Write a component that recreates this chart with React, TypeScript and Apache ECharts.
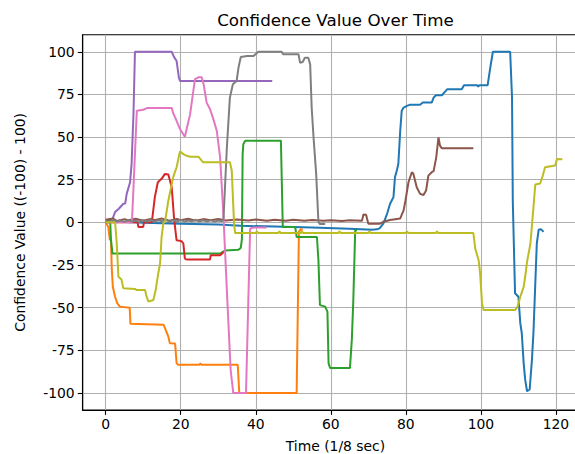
import React, { useEffect, useRef } from "react";
import * as echarts from "echarts";

const xTicks = [0, 20, 40, 60, 80, 100, 120];
const yTicks = [-100, -75, -50, -25, 0, 25, 50, 75, 100];

const colors = ["#1f77b4", "#ff7f0e", "#2ca02c", "#d62728", "#9467bd", "#8c564b", "#e377c2", "#7f7f7f", "#bcbd22"];

const s0: [number, number][] = [
  [0, 1], [2, 0.5], [10, -0.3], [20, -0.8], [30, -1.3], [36, -2], [45, -2.5], [55, -3], [65, -3.8], [71, -4.3], [72.3, -4.1],
  [73, -3.5], [74, -0.8], [75, 5], [75.8, 10.9], [76.7, 14.8], [77.1, 26.5], [77.6, 30.4], [78, 34.3], [78.5, 53.7], [78.9, 65.4],
  [79.4, 67.3], [80.3, 68.3], [81, 68.9], [83.8, 68.9], [84.5, 70.2], [86.9, 70.2], [87.4, 73.1], [88, 74.5], [89.6, 74.5],
  [90.4, 76.5], [91, 78], [94.9, 78], [95.5, 80.4], [99, 80.4], [99.3, 79.5], [99.6, 80.4], [101.8, 80.4], [102.5, 90.7],
  [103.2, 100], [107.8, 100], [108.3, 73.1], [108.5, 12.8], [109.1, -41.6], [110, -43.6], [110.5, -59.1], [110.9, -65],
  [111.4, -82.5], [111.8, -92.2], [112.3, -99], [113, -98], [113.6, -80.6], [114, -65], [114.5, -35.8], [114.9, -12.4],
  [115.4, -4.3], [116, -4], [116.7, -5.6],
];
const s1: [number, number][] = [
  [0, 0], [0.7, -2.7], [1.1, -10.5], [1.4, -9], [1.6, -26], [1.9, -37.8], [2.5, -43.6], [3.1, -47.5], [3.8, -49.4],
  [6.4, -50], [6.6, -59.5], [15.4, -60], [15.8, -62], [16.7, -67], [17.1, -70.8], [18.5, -71], [18.9, -82.5],
  [19.3, -83.5], [25, -83.5], [25.2, -82.8], [25.6, -83.5], [35.2, -83.5], [35.6, -100], [50.9, -100], [51.5, -5.6],
  [52, -4], [52.5, -4.5],
];
const s2: [number, number][] = [
  [0, 1], [1.2, 0.5], [1.4, -10], [1.8, -18.3], [30.5, -18.3], [31.4, -17], [32, -16.5], [33.1, -16.3], [35.4, -16],
  [36, -15], [36.3, -10], [36.5, 40], [36.7, 46], [37.2, 47.9], [46.7, 47.9], [47.2, -2.7], [50.5, -2.7], [50.9, -8.6],
  [56.3, -8.6], [56.7, -22.2], [57.1, -48.5], [58.5, -49.4], [59.1, -52.3], [59.4, -82.5], [59.8, -85.4], [65.1, -85.4],
  [65.6, -68.9], [66, -45.5], [66.5, -4.7], [67, -4.7],
];
const s3: [number, number][] = [
  [0, 0], [3, 0], [8.5, 0], [8.7, -2.7], [10, -2.7], [10.2, 0], [12.3, 0], [13.1, 14.8], [13.9, 23.5], [14.9, 25.5],
  [15.8, 28.4], [16.7, 28], [17.6, 20.6], [18.2, 3.1], [18.6, -5], [18.9, -10.5], [20.2, -11], [20.7, -12.4],
  [21.1, -21.2], [21.5, -21.8], [27.8, -21.8], [28, -19.3], [30.5, -19.3], [31.4, -17.5],
];
const s4: [number, number][] = [
  [0, 0], [1.5, 0], [2.5, 6], [3.5, 8], [4.7, 10.9], [5.2, 11], [5.6, 16.7], [6.5, 23.5], [6.9, 34], [7.4, 63],
  [7.8, 100], [17.6, 100], [18.2, 97], [18.9, 94.6], [19.5, 85], [19.8, 82.9], [44.4, 82.9],
];
const s5: [number, number][] = [
  [0, 1.5], [2, 2.2], [3, 0.8], [5, 1.9], [6, 1.2], [8, 2.1], [10, 0.9], [12, 2], [13, 1.3], [15, 2.2], [17, 1],
  [19, 2], [20, 1.2], [22, 2.1], [24, 1], [26, 1.9], [28, 1.2], [30, 2], [32, 1.1], [35, 1.6], [38, 1.1], [40, 1.7],
  [43, 1], [45, 1.5], [48, 0.9], [50, 1.5], [53, 1], [55, 1.4], [58, 0.9], [60, 1.3], [63, 0.8], [65, 1.2],
  [68.3, 1], [68.7, 4.6], [69.4, 4.5], [70, -0.8], [73.1, -0.8], [74, 0.3], [75.8, 1.4],
  [78.5, 2.3], [79.4, 7], [79.9, 12.8], [80.7, 23.5], [81.6, 29.4], [82, 28.5], [82.9, 20.6], [83.8, 16.7], [84.7, 16],
  [85.4, 18.7], [86, 27.4], [86.9, 29.4], [87.4, 30], [88.1, 38.1], [88.7, 49.8], [89.1, 45], [89.6, 43.4], [98, 43.4],
];
const s6: [number, number][] = [
  [0, 0], [7, 0], [7.6, 30], [8.3, 65.4], [10, 66], [11, 67], [17.6, 67], [18, 64], [18.9, 59.5], [19.8, 54.7],
  [21.1, 50.2], [22.5, 63.4], [23.8, 83.9], [24.7, 85], [25.6, 85], [26.1, 81], [26.9, 70.2], [27.8, 66.4],
  [28.7, 60.5], [29.6, 53.7], [30.5, 38.1], [31.4, 3.1], [32.3, -40], [33.3, -86.4], [34, -100], [37.4, -100],
  [38.5, -3.7], [39.5, -3], [42.9, -3],
];
const s7: [number, number][] = [
  [0, 0.8], [1, 0.2], [2, 1.4], [3, 0.4], [4, 1.2], [5, 0.3], [6, 1.5], [7, 0.5], [8, 1.1], [9, 0.2], [10, 1.3],
  [11, 0.5], [12, 1.4], [13, 0.3], [14, 1.2], [15, 0.6], [16, 1.5], [17, 0.4], [18, 1.2], [19, 0.5], [20, 1.4],
  [21, 0.4], [22, 1.1], [23, 0.6], [24, 1.5], [25, 0.4], [26, 1.2], [27, 0.5], [28, 1.3], [29, 0.4], [30, 1.1],
  [31, 0.6], [31.4, 2], [32.3, 44],
  [33.1, 73.1], [33.9, 81], [34.9, 82.9], [35.4, 90.7], [36, 96.9], [37.7, 97.5], [39.4, 97.5], [40.7, 100],
  [46.9, 100], [47.3, 98.5], [51.4, 98.5], [51.8, 93.6], [52.5, 94], [53.1, 96.5], [54, 96.5], [54.5, 92.6],
  [54.9, 67.3], [55.4, 49.8], [56.1, 28.4], [56.7, 0.2], [57.1, -1], [58.5, -1],
];
const s8: [number, number][] = [
  [0, 0], [2.5, 0], [2.9, -10.5], [3.4, -31.9], [4.2, -33.5], [4.7, -38.7], [7.8, -39], [8.2, -39.7], [10.5, -39.7],
  [10.9, -43.6], [11.4, -46.5], [12.7, -45.5], [13.3, -40], [14, -30], [14.5, -24.1], [14.9, -8.6], [15.4, 0],
  [15.8, 0], [16.7, 12.8], [18, 26.5], [18.9, 32.3], [19.8, 41.6], [20.7, 40], [21.6, 39], [22.5, 38.5], [24.7, 38.5],
  [25.6, 36.2], [26, 35.2], [33.1, 35.2], [33.6, 30.4], [34.2, 0], [34.5, -6.3], [40, -6.3], [40.3, -5.2], [40.6, -6.3],
  [46, -6.3], [46.3, -5.2], [46.6, -6.3], [52, -6.3], [52.3, -5.2], [52.6, -6.3], [62, -6.3], [62.3, -5.2], [62.6, -6.3],
  [70, -6.3], [70.3, -5.2], [70.6, -6.3], [80, -6.3], [80.3, -5.2], [80.6, -6.3], [88, -6.3], [88.3, -5.2], [88.6, -6.3],
  [98, -6.3], [98.5, -15.4], [99.4, -22.2], [99.8, -30], [100.3, -47.5], [100.7, -51.4], [109.1, -51.4],
  [109.8, -49.4], [110.5, -43.6], [111.4, -37.8], [111.8, -31.9], [112.3, -23.2], [113.2, -12.4], [113.6, -2],
  [114.5, 22.2], [115.8, 22.8], [116.5, 27.4], [117.1, 32.3], [119.8, 33.3], [120.3, 37.2], [121.7, 37],
];
const seriesData = [s0, s1, s2, s3, s4, s5, s6, s7, s8];

const FONT = "DejaVu Sans";

export default function App() {
  const ref = useRef<HTMLDivElement>(null);
  useEffect(() => {
    if (!ref.current) return;
    const chart = echarts.init(ref.current, null, { renderer: "svg" });
    const gridLeft = 82.7;
    const gridTop = 34.7;
    const gridW = 505.5;
    const gridH = 375.3;
    chart.setOption({
      animation: false,
      backgroundColor: "#ffffff",
      grid: {
        left: gridLeft,
        top: gridTop,
        width: gridW,
        height: gridH,
        show: true,
        borderColor: "#000000",
        borderWidth: 1.1,
        containLabel: false,
      },
      graphic: [
        {
          type: "text",
          x: gridLeft + gridW / 2,
          y: 20,
          style: {
            text: "Confidence Value Over Time",
            fontFamily: FONT,
            fontSize: 16.7,
            fill: "#000",
            textAlign: "center",
            textVerticalAlign: "middle",
          },
        },
        {
          type: "text",
          x: 20,
          y: gridTop + gridH / 2,
          rotation: Math.PI / 2,
          style: {
            text: "Confidence Value ((-100) - 100)",
            fontFamily: FONT,
            fontSize: 13.9,
            fill: "#000",
            textAlign: "center",
            textVerticalAlign: "middle",
          },
        },
        {
          type: "text",
          x: gridLeft + gridW / 2,
          y: 446,
          style: {
            text: "Time (1/8 sec)",
            fontFamily: FONT,
            fontSize: 13.9,
            fill: "#000",
            textAlign: "center",
            textVerticalAlign: "middle",
          },
        },
      ],
      xAxis: {
        type: "value",
        min: -6.125,
        max: 128.6,
        axisLine: { show: true, onZero: false, lineStyle: { color: "#000", width: 1.1 } },
        axisTick: { show: true, inside: false, length: 4.9, customValues: xTicks, lineStyle: { color: "#000", width: 1.1 } },
        axisLabel: { customValues: xTicks, fontFamily: FONT, fontSize: 13.9, color: "#000", margin: 7 },
        splitLine: { show: true, lineStyle: { color: "#b0b0b0", width: 1.1 } },
      },
      yAxis: {
        type: "value",
        min: -110,
        max: 110,
        axisLine: { show: true, onZero: false, lineStyle: { color: "#000", width: 1.1 } },
        axisTick: { show: true, inside: false, length: 4.9, customValues: yTicks, lineStyle: { color: "#000", width: 1.1 } },
        axisLabel: { customValues: yTicks, fontFamily: FONT, fontSize: 13.9, color: "#000", margin: 8 },
        splitLine: { show: true, lineStyle: { color: "#b0b0b0", width: 1.1 } },
      },
      series: seriesData.map((d, i) => ({
        type: "line",
        data: d,
        showSymbol: false,
        symbol: "none",
        smooth: false,
        color: colors[i],
        lineStyle: { color: colors[i], width: 2 },
        z: 2 + i,
      })),
    });
    return () => chart.dispose();
  }, []);
  return <div ref={ref} style={{ position: "fixed", left: 0, top: 0, width: 600, height: 454 }} />;
}
